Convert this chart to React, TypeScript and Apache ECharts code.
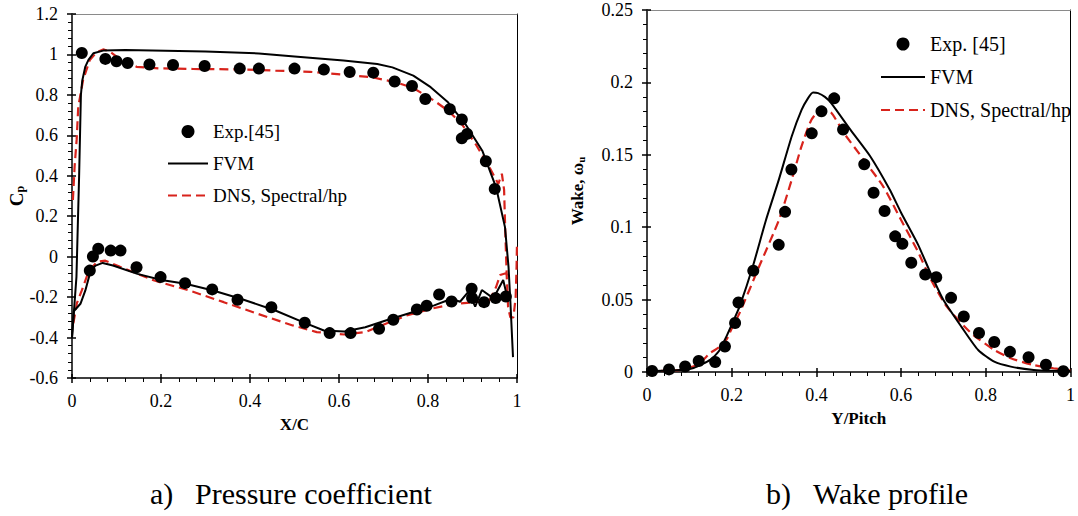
import React, { useEffect, useRef } from 'react';
import * as echarts from 'echarts';

const FONT = 'Liberation Serif, Times New Roman, serif';
const RED = '#d8231c';

// ---------- (a) Pressure coefficient ----------
const cpExp: number[][] = [
  [0.022, 1.007], [0.075, 0.978], [0.1, 0.966], [0.125, 0.958], [0.174, 0.95], [0.227, 0.948],
  [0.298, 0.943], [0.377, 0.93], [0.42, 0.93], [0.5, 0.93], [0.566, 0.925], [0.624, 0.913],
  [0.677, 0.91], [0.725, 0.866], [0.764, 0.844], [0.794, 0.78], [0.849, 0.729], [0.876, 0.678],
  [0.876, 0.585], [0.888, 0.607], [0.93, 0.472], [0.95, 0.335],
  [0.04, -0.069], [0.047, 0.001], [0.059, 0.039], [0.087, 0.03], [0.109, 0.03], [0.145, -0.052],
  [0.199, -0.101], [0.254, -0.131], [0.315, -0.162], [0.372, -0.213], [0.448, -0.25], [0.523, -0.327],
  [0.579, -0.378], [0.626, -0.378], [0.69, -0.357], [0.722, -0.312], [0.775, -0.261], [0.797, -0.243],
  [0.825, -0.187], [0.853, -0.222], [0.898, -0.159], [0.899, -0.204], [0.926, -0.225], [0.952, -0.205],
  [0.975, -0.197],
];

const cpFvmUpper: number[][] = [
  [0.0, -0.4], [0.01, -0.1], [0.016, 0.4], [0.02, 0.8], [0.023, 0.87], [0.03, 0.94], [0.037, 0.973],
  [0.048, 1.006], [0.07, 1.019], [0.12, 1.022], [0.3, 1.015], [0.42, 1.005], [0.5, 0.99], [0.61, 0.97],
  [0.686, 0.953], [0.72, 0.936], [0.767, 0.895], [0.806, 0.838], [0.845, 0.763], [0.884, 0.656],
  [0.922, 0.524], [0.953, 0.343], [0.973, 0.146], [0.981, -0.052], [0.985, -0.217], [0.991, -0.497],
];

const cpFvmLower: number[][] = [
  [0.0, -0.4], [0.004, -0.27], [0.019, -0.233], [0.03, -0.167], [0.042, -0.069], [0.053, -0.044],
  [0.069, -0.031], [0.092, -0.044], [0.147, -0.085], [0.201, -0.115], [0.255, -0.134], [0.317, -0.167],
  [0.379, -0.208], [0.457, -0.266], [0.519, -0.324], [0.566, -0.365], [0.612, -0.37], [0.659, -0.349],
  [0.705, -0.316], [0.767, -0.274], [0.814, -0.241], [0.853, -0.208], [0.872, -0.223], [0.891, -0.173],
  [0.906, -0.247], [0.921, -0.165], [0.947, -0.206], [0.969, -0.115], [0.977, -0.19], [0.985, -0.217],
];

const cpDnsUpper: number[][] = [
  [0.002, 0.28], [0.006, 0.45], [0.0105, 0.58], [0.014, 0.74], [0.025, 0.874], [0.04, 0.973],
  [0.055, 1.01], [0.07, 1.025], [0.085, 1.015], [0.1, 0.989], [0.145, 0.939], [0.198, 0.931],
  [0.272, 0.928], [0.385, 0.926], [0.457, 0.92], [0.535, 0.914], [0.612, 0.9], [0.674, 0.887],
  [0.728, 0.862], [0.767, 0.834], [0.814, 0.771], [0.845, 0.722], [0.876, 0.656], [0.907, 0.557],
  [0.938, 0.442], [0.958, 0.36], [0.966, 0.41], [0.971, 0.33], [0.974, 0.1], [0.977, -0.1],
  [0.98, -0.25], [0.985, -0.3], [0.992, -0.3], [0.997, -0.2], [0.999, -0.05], [1.0, 0.07],
];

const cpDnsLower: number[][] = [
  [0.003, -0.33], [0.011, -0.23], [0.022, -0.167], [0.038, -0.069], [0.057, -0.025], [0.075, -0.02],
  [0.108, -0.05], [0.185, -0.118], [0.263, -0.167], [0.341, -0.225], [0.418, -0.283], [0.496, -0.34],
  [0.55, -0.373], [0.612, -0.385], [0.659, -0.373], [0.705, -0.332], [0.752, -0.291], [0.806, -0.258],
  [0.86, -0.233], [0.907, -0.225], [0.938, -0.217], [0.953, -0.15], [0.962, -0.091], [0.975, -0.082],
  [0.98, -0.1],
];

// ---------- (b) Wake profile ----------
const wakeExp: number[][] = [
  [0.012, 0.0007], [0.052, 0.0018], [0.09, 0.0038], [0.122, 0.0076], [0.161, 0.0069], [0.184, 0.0176],
  [0.208, 0.0338], [0.216, 0.048], [0.251, 0.07], [0.311, 0.0878], [0.326, 0.1106], [0.341, 0.1398],
  [0.389, 0.1648], [0.412, 0.18], [0.442, 0.189], [0.463, 0.1674], [0.513, 0.1434], [0.535, 0.1238],
  [0.561, 0.1112], [0.586, 0.0937], [0.603, 0.0885], [0.624, 0.0754], [0.657, 0.0673], [0.683, 0.0655],
  [0.718, 0.0512], [0.748, 0.0383], [0.784, 0.0269], [0.82, 0.0207], [0.857, 0.0139], [0.901, 0.0102],
  [0.942, 0.005], [0.983, 0.0005],
];

const wakeFvm: number[][] = [
  [0.0, 0.0007], [0.07, 0.0012], [0.11, 0.0028], [0.15, 0.0085], [0.17, 0.0145], [0.188, 0.0248],
  [0.205, 0.036], [0.219, 0.0455], [0.25, 0.073], [0.281, 0.105], [0.3115, 0.133], [0.342, 0.163],
  [0.365, 0.181], [0.38, 0.189], [0.392, 0.193], [0.404, 0.1926], [0.42, 0.19], [0.435, 0.1857],
  [0.481, 0.167], [0.527, 0.149], [0.573, 0.126], [0.6, 0.11], [0.64, 0.088], [0.67, 0.068],
  [0.7, 0.0497], [0.743, 0.031], [0.782, 0.0152], [0.82, 0.0071], [0.859, 0.0037], [0.913, 0.0014],
  [0.96, 0.0008], [1.0, 0.0007],
];

const wakeDns: number[][] = [
  [0.0, 0.0005], [0.08, 0.0015], [0.12, 0.005], [0.135, 0.009], [0.15, 0.0133], [0.17, 0.017],
  [0.188, 0.0225], [0.2, 0.03], [0.219, 0.041], [0.265, 0.073], [0.3115, 0.105], [0.342, 0.133],
  [0.365, 0.156], [0.388, 0.174], [0.41, 0.181], [0.435, 0.179], [0.465, 0.165], [0.5115, 0.1467],
  [0.558, 0.128], [0.6, 0.105], [0.64, 0.083], [0.67, 0.064], [0.708, 0.0451], [0.766, 0.0267],
  [0.82, 0.0152], [0.859, 0.0095], [0.913, 0.0048], [0.96, 0.0026], [1.0, 0.001],
];

const axisLabelStyle = { fontFamily: FONT, fontSize: 18, color: '#000' };
const blackLine = { color: '#000', width: 1.5 };

function mainAxis(gridIndex: number, pos: string, min: number, max: number, interval: number, extra: any) {
  return {
    type: 'value', gridIndex, position: pos, min, max, interval,
    axisLine: { show: true, onZero: false, lineStyle: blackLine },
    axisTick: { show: true, inside: false, length: 5, lineStyle: blackLine },
    minorTick: { show: true, splitNumber: 5, length: 4, lineStyle: { color: '#000', width: 1 } },
    axisLabel: { ...axisLabelStyle, margin: 14 },
    splitLine: { show: false }, minorSplitLine: { show: false },
    ...extra,
  };
}
function innerAxis(gridIndex: number, pos: string, min: number, max: number, interval: number) {
  return {
    type: 'value', gridIndex, position: pos, min, max, interval,
    axisLine: { show: false, onZero: false },
    axisTick: { show: true, inside: true, length: 4, lineStyle: blackLine },
    axisLabel: { show: false }, splitLine: { show: false },
  };
}
function frameAxis(gridIndex: number, pos: string, min: number, max: number, color: string) {
  return {
    type: 'value', gridIndex, position: pos, min, max,
    axisLine: { show: true, onZero: false, lineStyle: { color, width: 1 } },
    axisTick: { show: false }, axisLabel: { show: false }, splitLine: { show: false },
  };
}

const nameStyle = { fontFamily: FONT, fontSize: 17, fontWeight: 'bold', color: '#000' };
const hiddenSymbol = { opacity: 0 };

export default function App() {
  const ref = useRef<HTMLDivElement>(null);
  useEffect(() => {
    document.body.style.margin = '0';
    const chart = echarts.init(ref.current!, null, { renderer: 'svg' });
    const option: any = {
      animation: false,
      backgroundColor: '#fff',
      textStyle: { fontFamily: FONT },
      grid: [
        { left: 72, top: 14, width: 445, height: 364 },
        { left: 647, top: 10, width: 430, height: 362 },
      ],
      xAxis: [
        mainAxis(0, 'bottom', 0, 1, 0.2, { name: 'X/C', nameLocation: 'middle', nameGap: 38, nameTextStyle: nameStyle }),
        innerAxis(0, 'bottom', 0, 1, 0.2),
        frameAxis(0, 'top', 0, 1, '#8a8a8a'),
        mainAxis(1, 'bottom', 0, 1, 0.2, { name: 'Y/Pitch', nameLocation: 'middle', nameGap: 38, nameTextStyle: nameStyle }),
        innerAxis(1, 'bottom', 0, 1, 0.2),
        frameAxis(1, 'top', 0, 1, '#8a8a8a'),
      ],
      yAxis: [
        mainAxis(0, 'left', -0.6, 1.2, 0.2, {
          name: '{c|C}{s|p}', nameLocation: 'middle', nameGap: 44,
          nameTextStyle: {
            rich: {
              c: { fontFamily: FONT, fontSize: 19, fontWeight: 'bold', color: '#000' },
              s: { fontFamily: FONT, fontSize: 12, fontWeight: 'bold', color: '#000', verticalAlign: 'bottom', lineHeight: 6 },
            },
          },
        }),
        innerAxis(0, 'left', -0.6, 1.2, 0.2),
        frameAxis(0, 'right', -0.6, 1.2, '#000'),
        mainAxis(1, 'left', 0, 0.25, 0.05, {
          name: '{c|Wake, ω}{s|u}', nameLocation: 'middle', nameGap: 61,
          nameTextStyle: {
            rich: {
              c: { fontFamily: FONT, fontSize: 17, fontWeight: 'bold', color: '#000' },
              s: { fontFamily: FONT, fontSize: 11, fontWeight: 'bold', color: '#000', verticalAlign: 'bottom', lineHeight: 6 },
            },
          },
        }),
        innerAxis(1, 'left', 0, 0.25, 0.05),
        frameAxis(1, 'right', 0, 0.25, '#000'),
      ],
      legend: [
        {
          left: 162, top: 117, orient: 'vertical', itemWidth: 40, itemHeight: 13, itemGap: 13,
          selectedMode: false,
          textStyle: { fontFamily: FONT, fontSize: 19, color: '#000' },
          data: [
            { name: 'Exp.[45]', icon: 'circle' },
            { name: 'FVM', itemStyle: hiddenSymbol },
            { name: 'DNS, Spectral/hp', itemStyle: hiddenSymbol },
          ],
        },
        {
          left: 875, top: 29, orient: 'vertical', itemWidth: 44, itemHeight: 13, itemGap: 13,
          selectedMode: false,
          textStyle: { fontFamily: FONT, fontSize: 20, color: '#000' },
          data: [
            { name: 'Exp. [45]', icon: 'circle' },
            { name: 'FVM', itemStyle: hiddenSymbol },
            { name: 'DNS, Spectral/hp', itemStyle: hiddenSymbol },
          ],
        },
      ],
      series: [
        { name: 'FVM', type: 'line', xAxisIndex: 0, yAxisIndex: 0, data: cpFvmUpper, symbol: 'none', lineStyle: { color: '#000', width: 2 }, itemStyle: { color: '#000' }, z: 3 },
        { name: 'FVM', type: 'line', xAxisIndex: 0, yAxisIndex: 0, data: cpFvmLower, symbol: 'none', lineStyle: { color: '#000', width: 2 }, itemStyle: { color: '#000' }, z: 3 },
        { name: 'DNS, Spectral/hp', type: 'line', xAxisIndex: 0, yAxisIndex: 0, data: cpDnsUpper, symbol: 'none', lineStyle: { color: RED, width: 2.2, type: [9, 5] }, itemStyle: { color: RED }, z: 2 },
        { name: 'DNS, Spectral/hp', type: 'line', xAxisIndex: 0, yAxisIndex: 0, data: cpDnsLower, symbol: 'none', lineStyle: { color: RED, width: 2.2, type: [9, 5] }, itemStyle: { color: RED }, z: 2 },
        { name: 'Exp.[45]', type: 'scatter', xAxisIndex: 0, yAxisIndex: 0, data: cpExp, symbolSize: 12, itemStyle: { color: '#000', opacity: 1 }, z: 4 },

        { name: 'FVM', type: 'line', xAxisIndex: 3, yAxisIndex: 3, data: wakeFvm, symbol: 'none', smooth: 0.2, lineStyle: { color: '#000', width: 2 }, itemStyle: { color: '#000' }, z: 3 },
        { name: 'DNS, Spectral/hp', type: 'line', xAxisIndex: 3, yAxisIndex: 3, data: wakeDns, symbol: 'none', smooth: 0.2, lineStyle: { color: RED, width: 2.2, type: [9, 5] }, itemStyle: { color: RED }, z: 2 },
        { name: 'Exp. [45]', type: 'scatter', xAxisIndex: 3, yAxisIndex: 3, data: wakeExp, symbolSize: 12, itemStyle: { color: '#000', opacity: 1 }, z: 4 },
      ],
      graphic: [
        { type: 'text', left: 150, top: 478, style: { text: 'a)', fontFamily: FONT, fontSize: 30, fill: '#000' } },
        { type: 'text', left: 195, top: 478, style: { text: 'Pressure coefficient', fontFamily: FONT, fontSize: 30, fill: '#000' } },
        { type: 'text', left: 766, top: 478, style: { text: 'b)', fontFamily: FONT, fontSize: 30, fill: '#000' } },
        { type: 'text', left: 813, top: 478, style: { text: 'Wake profile', fontFamily: FONT, fontSize: 30, fill: '#000' } },
      ],
    };
    chart.setOption(option);
    return () => chart.dispose();
  }, []);
  return <div ref={ref} style={{ width: 1078, height: 516 }} />;
}
